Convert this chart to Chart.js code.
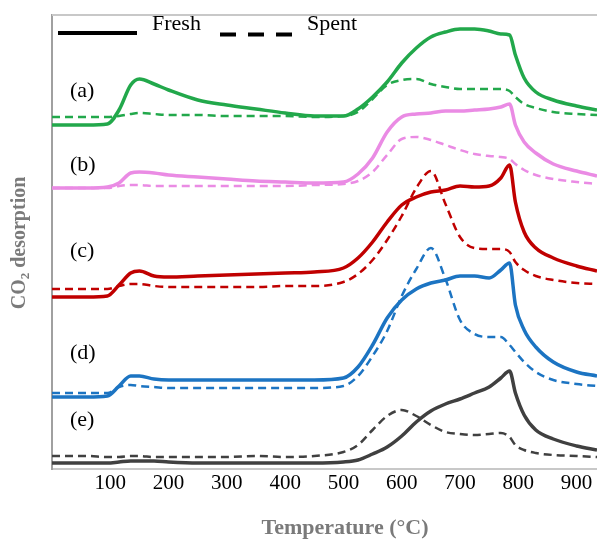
<!DOCTYPE html>
<html>
<head>
<meta charset="utf-8">
<script src="https://cdn.jsdelivr.net/npm/chart.js@4.4.1/dist/chart.umd.min.js"></script>
<style>
  html, body { margin: 0; padding: 0; background: #fff; }
  #wrap { width: 597px; height: 539px; }
</style>
</head>
<body>
<div id="wrap"><canvas id="chart"></canvas></div>
<script>
// temperature grid (°C)
const temps = [0, 60, 95, 115, 135, 150, 175, 200, 250, 300, 350, 400, 450, 500, 525, 550,
               575, 600, 625, 650, 675, 700, 725, 750, 770, 785, 795, 810, 830, 860, 900, 935];

// CO2 desorption signal (a.u., curves are offset like in the figure)
const aFresh = [344,344,345,359,384,390,385,379,369,364,360,356,353,353,360,372,387,406,421,432,437,440,440,438,435,434,414,391,377,369,363,359];
const aSpent = [352,352,352,353,355,356,355,354,354,353,353,353,352,353,357,370,384,389,390,385,382,380,380,380,380,378,372,365,361,357,355,354];
const bFresh = [281,281,282,286,296,297,296,294,292,290,288,287,286,287,295,311,337,352,355,356,358,358,359,360,362,365,344,327,316,305,298,293];
const bSpent = [281,281,281,283,284,284,283,283,283,283,283,283,284,285,288,297,314,330,332,329,324,319,315,313,312,310,305,299,294,290,287,285];
const cFresh = [172,172,173,184,196,198,193,192,193,194,195,196,197,201,211,227,247,264,272,277,279,283,282,283,291,304,267,237,221,211,203,198];
const cSpent = [180,180,180,183,185,185,183,182,182,182,182,183,183,187,195,209,229,253,281,298,265,232,221,220,220,217,207,199,193,189,186,185];
const dFresh = [72,72,73,83,93,93,90,89,89,89,89,89,89,91,102,124,151,169,180,186,189,193,193,191,199,206,164,139,122,107,97,93];
const dSpent = [76,76,76,82,84,83,82,81,81,81,81,81,81,83,93,113,138,173,200,221,190,149,135,132,132,124,117,107,97,89,85,83];
const eFresh = [6,6,6,7,8,8,8,7,6,6,6,6,6,7,9,15,22,33,47,58,65,70,76,82,91,98,76,54,39,30,23,19];
const eSpent = [13,13,12,12,13,13,12,12,12,12,13,12,13,17,24,39,53,59,53,44,37,35,34,35,36,32,24,19,16,14,13,12];

const xTicks = [100, 200, 300, 400, 500, 600, 700, 800, 900];
const panelLabels = ['(a)', '(b)', '(c)', '(d)', '(e)'];
const legendLabels = ['Fresh', 'Spent'];

const colors = ['#22a84b', '#ea8be4', '#c00000', '#1c74c2', '#404040'];
const fresh = [aFresh, bFresh, cFresh, dFresh, eFresh];
const spent = [aSpent, bSpent, cSpent, dSpent, eSpent];

const toPts = arr => arr.map((v, i) => ({ x: temps[i], y: v }));

const datasets = [];
fresh.forEach((arr, i) => {
    datasets.push({ data: toPts(arr), borderColor: colors[i], borderWidth: 3.5, pointRadius: 0,
                    cubicInterpolationMode: 'monotone', fill: false });
});
spent.forEach((arr, i) => {
    datasets.push({ data: toPts(arr), borderColor: colors[i], borderWidth: 2.5, borderDash: [8, 5],
                    pointRadius: 0, cubicInterpolationMode: 'monotone', fill: false });
});

// extra text: legend, panel labels, axis titles, top frame line
const decor = {
    id: 'decor',
    afterDraw(chart) {
        const ctx = chart.ctx;
        const area = chart.chartArea;
        ctx.save();

        ctx.strokeStyle = '#c8c8c8';
        ctx.lineWidth = 2;
        ctx.beginPath();
        ctx.moveTo(area.left, area.top);
        ctx.lineTo(area.right, area.top);
        ctx.stroke();

        // legend
        ctx.strokeStyle = '#000';
        ctx.lineWidth = 4;
        ctx.beginPath(); ctx.moveTo(58, 33); ctx.lineTo(137, 33); ctx.stroke();
        ctx.setLineDash([16, 12]);
        ctx.beginPath(); ctx.moveTo(220, 34.5); ctx.lineTo(296, 34.5); ctx.stroke();
        ctx.setLineDash([]);
        ctx.fillStyle = '#000';
        ctx.font = '22px "Liberation Serif"';
        ctx.textBaseline = 'alphabetic';
        ctx.fillText(legendLabels[0], 152, 30);
        ctx.fillText(legendLabels[1], 307, 30);

        // panel labels
        const ly = [91, 165, 251, 353, 420];
        ctx.textBaseline = 'middle';
        panelLabels.forEach((t, i) => ctx.fillText(t, 70, ly[i]));

        // x title
        ctx.fillStyle = '#7a7a7a';
        ctx.font = 'bold 22px "Liberation Serif"';
        ctx.textAlign = 'center';
        ctx.fillText('Temperature (°C)', 345, 528);

        // y title with subscript
        ctx.translate(20, 243);
        ctx.rotate(-Math.PI / 2);
        ctx.textAlign = 'left';
        const big = 'bold 20px "Liberation Serif"', small = 'bold 13px "Liberation Serif"';
        ctx.font = big; const w1 = ctx.measureText('CO').width; const w3 = ctx.measureText(' desorption').width;
        ctx.font = small; const w2 = ctx.measureText('2').width;
        let x = -(w1 + w2 + w3) / 2;
        ctx.font = big; ctx.fillText('CO', x, 0); x += w1;
        ctx.font = small; ctx.fillText('2', x, 6); x += w2;
        ctx.font = big; ctx.fillText(' desorption', x, 0);

        ctx.restore();
    }
};

new Chart(document.getElementById('chart'), {
    type: 'line',
    data: { datasets },
    options: {
        responsive: true,
        maintainAspectRatio: false,
        animation: false,
        layout: { padding: { top: 15, left: 0, right: 0, bottom: 0 } },
        plugins: { legend: { display: false }, tooltip: { enabled: false } },
        scales: {
            x: {
                type: 'linear',
                min: 0, max: 935,
                grid: { display: false, drawTicks: false },
                border: { display: true, color: '#c8c8c8', width: 2 },
                ticks: { color: '#000', padding: 2, maxRotation: 0, autoSkip: false,
                         font: { family: 'Liberation Serif', size: 21 } },
                afterBuildTicks: s => { s.ticks = xTicks.map(v => ({ value: v })); },
                afterFit: s => { s.height = 70; }
            },
            y: {
                min: 0, max: 454,
                grid: { display: false, drawTicks: false },
                border: { display: true, color: '#a0a0a0', width: 2 },
                ticks: { display: false },
                afterFit: s => { s.width = 52; }
            }
        }
    },
    plugins: [decor]
});
</script>
</body>
</html>
